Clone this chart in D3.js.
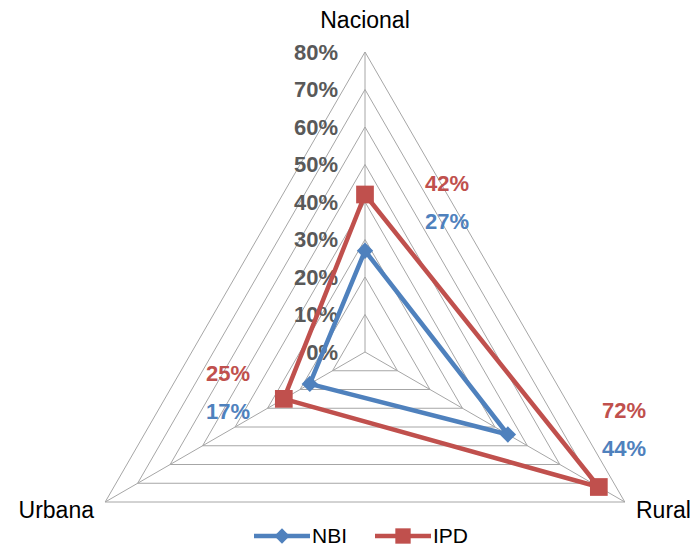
<!DOCTYPE html>
<html lang="es">
<head>
<meta charset="UTF-8" />
<title>NBI vs IPD</title>
<script src="https://cdn.jsdelivr.net/npm/d3@7/dist/d3.min.js"></script>
<style>
  body { margin: 0; background: #fff; }
  svg text { font-family: "Liberation Sans", "DejaVu Sans", sans-serif; }
</style>
</head>
<body>
<svg width="698" height="552"></svg>
<script>
// datos
const categories = ['Nacional', 'Rural', 'Urbana']
const nbi = [0.27, 0.44, 0.17]
const ipd = [0.42, 0.72, 0.25]
const tickValues = [0, 0.1, 0.2, 0.3, 0.4, 0.5, 0.6, 0.7, 0.8]
const seriesNames = ['NBI', 'IPD']

const series = [
  { name: seriesNames[0], values: nbi, color: '#4F81BD', marker: 'diamond' },
  { name: seriesNames[1], values: ipd, color: '#C0504D', marker: 'square' },
]

const svg = d3.select('svg')
const cx = 365, cy = 352, R = 300
const r = d3.scaleLinear().domain([0, 0.8]).range([0, R])
// angulo de cada categoria (0 = arriba, sentido horario)
const angle = (i) => (i * 2 * Math.PI) / categories.length
const pt = (i, v) => [cx + r(v) * Math.sin(angle(i)), cy - r(v) * Math.cos(angle(i))]

// rejilla
const grid = svg.append('g')
tickValues.filter((t) => t > 0).forEach((t) => {
  grid.append('polygon')
    .attr('points', categories.map((c, i) => pt(i, t).join(',')).join(' '))
    .attr('fill', 'none')
    .attr('stroke', '#A6A6A6')
    .attr('stroke-width', 1)
})
categories.forEach((c, i) => {
  const [x, y] = pt(i, 0.8)
  grid.append('line')
    .attr('x1', cx).attr('y1', cy).attr('x2', x).attr('y2', y)
    .attr('stroke', '#A6A6A6').attr('stroke-width', 1)
})

// etiquetas del eje
svg.append('g').selectAll('text')
  .data(tickValues)
  .enter()
  .append('text')
  .attr('x', cx - 27)
  .attr('y', (d) => cy - r(d))
  .attr('dy', '0.35em')
  .attr('text-anchor', 'end')
  .attr('font-size', 22)
  .attr('font-weight', 'bold')
  .attr('fill', '#595959')
  .text(d3.format('.0%'))

// categorias
const catPos = [
  { x: cx, y: 28, anchor: 'middle' },
  { x: 636, y: 518, anchor: 'start' },
  { x: 94, y: 518, anchor: 'end' },
]
svg.append('g').selectAll('text')
  .data(categories)
  .enter()
  .append('text')
  .attr('x', (d, i) => catPos[i].x)
  .attr('y', (d, i) => catPos[i].y)
  .attr('text-anchor', (d, i) => catPos[i].anchor)
  .attr('font-size', 23)
  .attr('fill', '#000')
  .text((d) => d)

// series
const line = d3.line().curve(d3.curveLinearClosed)
series.forEach((s) => {
  const pts = s.values.map((v, i) => pt(i, v))
  svg.append('path')
    .attr('d', line(pts))
    .attr('fill', 'none')
    .attr('stroke', s.color)
    .attr('stroke-width', 4.5)
    .attr('stroke-linejoin', 'round')
  const sym = s.marker === 'diamond'
    ? d3.symbol().type(d3.symbolDiamond2).size(170)
    : d3.symbol().type(d3.symbolSquare2).size(400)
  svg.append('g').selectAll('path')
    .data(pts)
    .enter()
    .append('path')
    .attr('transform', (d) => `translate(${d[0]},${d[1]})`)
    .attr('d', sym)
    .attr('fill', s.color)
})

// etiquetas de datos
const labelPos = [
  { x: 447, y: 183 },
  { x: 624, y: 410 },
  { x: 228, y: 373 },
]
series.slice().reverse().forEach((s, k) => {
  svg.append('g').selectAll('text')
    .data(s.values)
    .enter()
    .append('text')
    .attr('x', (d, i) => labelPos[i].x)
    .attr('y', (d, i) => labelPos[i].y + k * 38)
    .attr('dy', '0.35em')
    .attr('text-anchor', 'middle')
    .attr('font-size', 22)
    .attr('font-weight', 'bold')
    .attr('fill', s.color)
    .text(d3.format('.0%'))
})

// leyenda
const legend = svg.append('g').attr('transform', 'translate(254,536)')
series.forEach((s, i) => {
  const g = legend.append('g').attr('transform', `translate(${i * 121},0)`)
  g.append('line').attr('x1', 0).attr('x2', 56).attr('y1', 0).attr('y2', 0)
    .attr('stroke', s.color).attr('stroke-width', 4.5)
  g.append('path')
    .attr('transform', 'translate(28,0)')
    .attr('d', s.marker === 'diamond'
      ? d3.symbol().type(d3.symbolDiamond2).size(150)
      : d3.symbol().type(d3.symbolSquare2).size(300))
    .attr('fill', s.color)
  g.append('text')
    .attr('x', 58).attr('y', 0).attr('dy', '0.35em')
    .attr('font-size', 21)
    .text(s.name)
})
</script>
</body>
</html>
